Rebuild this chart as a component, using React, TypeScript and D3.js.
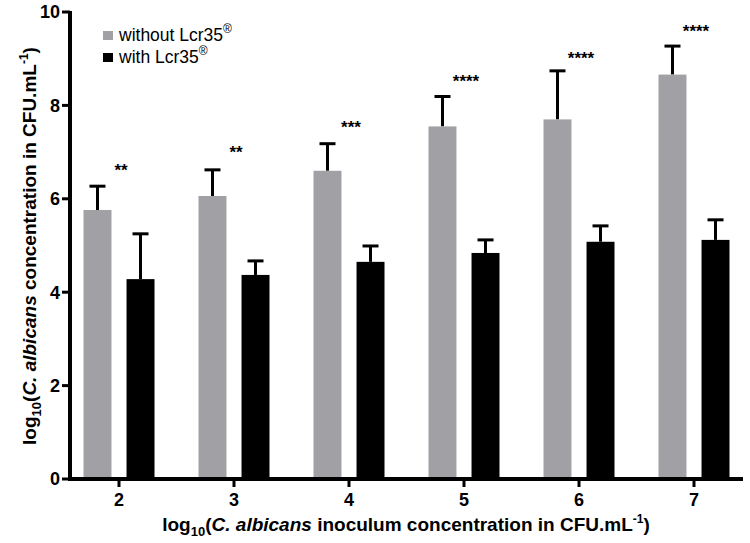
import * as d3 from 'd3';

const inocula = ['2', '3', '4', '5', '6', '7'];
const withoutMean = [5.76, 6.06, 6.6, 7.55, 7.7, 8.66];
const withoutTop = [6.27, 6.62, 7.18, 8.19, 8.74, 9.27];
const withMean = [4.28, 4.37, 4.65, 4.84, 5.08, 5.12];
const withTop = [5.25, 4.67, 4.99, 5.12, 5.42, 5.55];
const sigLabels = ['**', '**', '***', '****', '****', '****'];
const sigY = [6.72, 7.11, 7.64, 8.61, 9.12, 9.68];
const yTicks = [0, 2, 4, 6, 8, 10];

const W = 750;
const H = 543;
const FONT = '"Liberation Sans", Arial, Helvetica, sans-serif';
const GRAY = '#a1a1a5';

export default function App() {
  const x = d3.scalePoint<string>().domain(inocula).range([119, 694]);
  const sub = d3.scaleBand<string>()
    .domain(['without', 'with'])
    .range([-35.5, 35.5])
    .paddingInner(0.35);
  const y = d3.scaleLinear().domain([0, 10]).range([479, 12]);

  const series = [
    { key: 'without', mean: withoutMean, top: withoutTop, color: GRAY },
    { key: 'with', mean: withMean, top: withTop, color: '#000' },
  ];

  return (
    <svg
      width={W}
      height={H}
      viewBox={`0 0 ${W} ${H}`}
      style={{ position: 'absolute', left: 0, top: 0, background: '#fff' }}
      fontFamily={FONT}
    >
      {series.map(s =>
        inocula.map((c, i) => {
          const x0 = x(c)! + sub(s.key)!;
          const bw = sub.bandwidth();
          const cx = x0 + bw / 2;
          return (
            <g key={s.key + c}>
              <line x1={cx} x2={cx} y1={y(s.mean[i])} y2={y(s.top[i])} stroke="#000" strokeWidth={3} />
              <line x1={cx - 8} x2={cx + 8} y1={y(s.top[i])} y2={y(s.top[i])} stroke="#000" strokeWidth={3} />
              <rect x={x0} y={y(s.mean[i])} width={bw} height={y(0) - y(s.mean[i])} fill={s.color} />
            </g>
          );
        })
      )}

      {inocula.map((c, i) => (
        <text key={'sig' + c} x={x(c)! + 2} y={y(sigY[i])} dy="0.62em" textAnchor="middle"
          fontSize={17} fontWeight="bold">
          {sigLabels[i]}
        </text>
      ))}

      {/* axes */}
      <line x1={70} x2={70} y1={y(10) - 1} y2={y(0) + 2} stroke="#000" strokeWidth={4} />
      <line x1={68} x2={743} y1={y(0)} y2={y(0)} stroke="#000" strokeWidth={4} />
      {yTicks.map(t => (
        <g key={'yt' + t}>
          <line x1={62} x2={70} y1={y(t)} y2={y(t)} stroke="#000" strokeWidth={3} />
          <text x={60} y={y(t)} dy="0.36em" textAnchor="end" fontSize={18} fontWeight="bold">{t}</text>
        </g>
      ))}
      {inocula.map(c => (
        <g key={'xt' + c}>
          <line x1={x(c)} x2={x(c)} y1={y(0)} y2={y(0) + 8} stroke="#000" strokeWidth={3} />
          <text x={x(c)} y={506} textAnchor="middle" fontSize={18} fontWeight="bold">{c}</text>
        </g>
      ))}

      {/* axis titles */}
      <text x={406} y={531} textAnchor="middle" fontSize={19} fontWeight="bold">
        log<tspan fontSize={13} dy={5}>10</tspan>
        <tspan dy={-5}>(</tspan>
        <tspan fontStyle="italic">C. albicans</tspan> inoculum concentration in CFU.mL
        <tspan fontSize={12} dy={-8}>-1</tspan>
        <tspan dy={8}>)</tspan>
      </text>
      <text transform="translate(36,246) rotate(-90)" textAnchor="middle" fontSize={19} fontWeight="bold">
        log<tspan fontSize={13} dy={5}>10</tspan>
        <tspan dy={-5}>(</tspan>
        <tspan fontStyle="italic">C. albicans</tspan> concentration in CFU.mL
        <tspan fontSize={12} dy={-8}>-1</tspan>
        <tspan dy={8}>)</tspan>
      </text>

      {/* legend */}
      {series.map((s, i) => (
        <g key={'lg' + s.key} transform={`translate(103,${31 + i * 22})`}>
          <rect width={10} height={9} fill={s.color} />
          <text x={16} y={10} fontSize={17.5}>
            {s.key === 'without' ? 'without Lcr35' : 'with Lcr35'}
            <tspan fontSize={12} dy={-8}>®</tspan>
          </text>
        </g>
      ))}
    </svg>
  );
}
